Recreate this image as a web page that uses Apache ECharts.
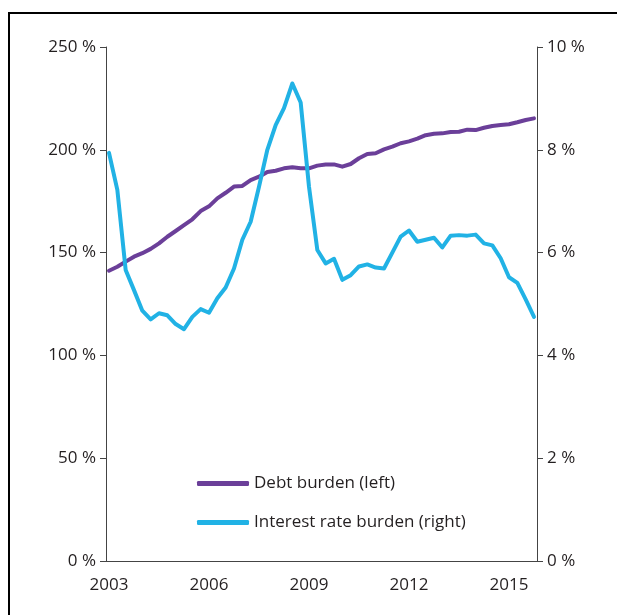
<!DOCTYPE html>
<html>
<head>
<meta charset="utf-8">
<script src="https://cdn.jsdelivr.net/npm/echarts@6/dist/echarts.min.js"></script>
<style>
  html, body { margin: 0; padding: 0; background: #fff; overflow: hidden; }
  #chart { width: 617px; height: 615px; }
</style>
</head>
<body>
<div id="chart"></div>
<script>
// quarterly observations, 2003 Q1 - 2015 Q4
const startYear = 2003
const yearLabels = [2003, 2006, 2009, 2012, 2015]

// debt burden, per cent (left axis)
const debtBurden = [
  141.2, 143.1, 145.6, 148.0, 149.7, 151.8, 154.5, 157.7,
  160.5, 163.4, 166.2, 170.2, 172.5, 176.4, 179.1, 182.1,
  182.4, 185.3, 186.9, 189.2, 189.8, 191.0, 191.5, 191.0,
  191.0, 192.3, 192.9, 192.9, 191.8, 193.1, 195.9, 198.0,
  198.3, 200.2, 201.5, 203.2, 204.1, 205.4, 207.1, 207.8,
  208.0, 208.7, 208.8, 209.8, 209.6, 210.7, 211.6, 212.1,
  212.4, 213.4, 214.5, 215.3
]

// interest rate burden, per cent (right axis)
const interestBurden = [
  7.94, 7.22, 5.66, 5.27, 4.87, 4.70, 4.82, 4.78,
  4.61, 4.51, 4.75, 4.90, 4.83, 5.11, 5.32, 5.69,
  6.25, 6.60, 7.28, 8.00, 8.48, 8.81, 9.29, 8.92,
  7.28, 6.05, 5.79, 5.88, 5.47, 5.56, 5.73, 5.77,
  5.71, 5.69, 6.00, 6.31, 6.43, 6.21, 6.25, 6.29,
  6.10, 6.33, 6.34, 6.33, 6.35, 6.18, 6.14, 5.89,
  5.52, 5.41, 5.09, 4.75
]

const toPoints = arr => arr.map((v, i) => [startYear + i * 0.25, v])

const font = '"Open Sans", "Noto Sans", sans-serif'
const axisColor = '#444'
const textColor = '#231f20'

const chart = echarts.init(document.getElementById('chart'), null, { renderer: 'canvas' })
chart.setOption({
  animation: false,
  backgroundColor: '#fff',
  textStyle: { fontFamily: font },
  // frame: only the top and left edges fall inside the picture
  graphic: [{
    type: 'polyline',
    shape: { points: [[9, 700], [9, 13], [700, 13]] },
    style: { fill: null, stroke: '#000', lineWidth: 2 },
    silent: true
  }],
  grid: { left: 106, right: 80, top: 47, bottom: 54 },
  legend: {
    orient: 'vertical',
    left: 192,
    top: 470,
    itemWidth: 52,
    itemHeight: 5,
    itemGap: 22,
    icon: 'roundRect',
    textStyle: { color: textColor, fontSize: 17, fontFamily: font },
    data: ['Debt burden (left)', 'Interest rate burden (right)']
  },
  xAxis: {
    type: 'value',
    min: 2002.91,
    max: 2015.84,
    splitLine: { show: false },
    axisLine: { show: true, lineStyle: { color: axisColor, width: 1 } },
    axisTick: { show: false },
    axisLabel: {
      customValues: yearLabels,
      formatter: v => String(v),
      color: textColor,
      fontSize: 17,
      margin: 16
    }
  },
  yAxis: [{
    type: 'value',
    min: 0,
    max: 250,
    interval: 50,
    splitLine: { show: false },
    axisLine: { show: true, lineStyle: { color: axisColor, width: 1 } },
    axisTick: { show: true, length: 6, lineStyle: { color: axisColor } },
    axisLabel: { formatter: '{value} %', color: textColor, fontSize: 17, margin: 10 }
  }, {
    type: 'value',
    min: 0,
    max: 10,
    interval: 2,
    splitLine: { show: false },
    axisLine: { show: true, lineStyle: { color: axisColor, width: 1 } },
    axisTick: { show: true, length: 6, lineStyle: { color: axisColor } },
    axisLabel: { formatter: '{value} %', color: textColor, fontSize: 17, margin: 10 }
  }],
  series: [{
    name: 'Debt burden (left)',
    type: 'line',
    yAxisIndex: 0,
    data: toPoints(debtBurden),
    symbol: 'none',
    lineStyle: { width: 4, color: '#6b3f99', join: 'round', cap: 'round' },
    itemStyle: { color: '#6b3f99' }
  }, {
    name: 'Interest rate burden (right)',
    type: 'line',
    yAxisIndex: 1,
    data: toPoints(interestBurden),
    symbol: 'none',
    lineStyle: { width: 4, color: '#21b2e5', join: 'round', cap: 'round' },
    itemStyle: { color: '#21b2e5' }
  }]
})
</script>
</body>
</html>
